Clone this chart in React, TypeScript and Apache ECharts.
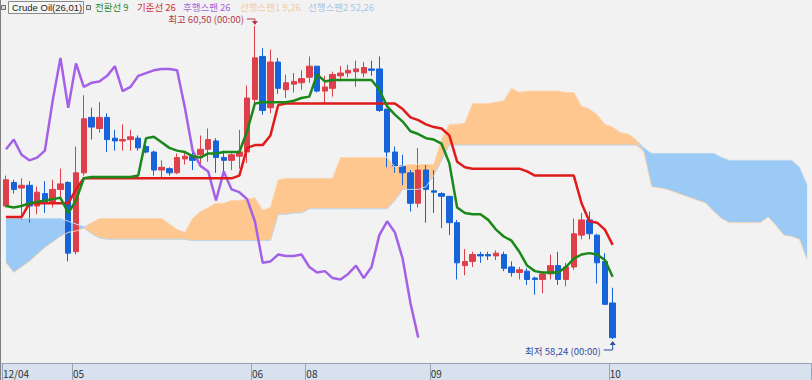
import React, { useEffect, useRef } from 'react';
import * as echarts from 'echarts';

// [open, close, low, high]
const ohlc: [number, number, number, number][] = [
  [59.20, 59.39, 59.19, 59.42], [59.37, 59.32, 59.29, 59.39], [59.33, 59.35, 59.10, 59.40], [59.35, 59.20, 59.08, 59.38],
  [59.20, 59.30, 59.14, 59.34], [59.29, 59.23, 59.15, 59.38], [59.23, 59.32, 59.19, 59.39], [59.32, 59.36, 59.24, 59.47],
  [59.37, 58.86, 58.80, 59.38], [58.87, 59.44, 58.85, 59.63], [59.44, 59.83, 59.42, 60.00], [59.84, 59.77, 59.68, 59.91],
  [59.76, 59.84, 59.73, 59.95], [59.84, 59.68, 59.59, 59.87], [59.69, 59.67, 59.60, 59.75], [59.67, 59.68, 59.60, 59.79],
  [59.68, 59.70, 59.60, 59.75], [59.69, 59.62, 59.60, 59.71], [59.63, 59.59, 59.58, 59.66], [59.59, 59.46, 59.42, 59.60],
  [59.46, 59.48, 59.41, 59.53], [59.47, 59.44, 59.42, 59.48], [59.44, 59.55, 59.43, 59.58], [59.54, 59.56, 59.50, 59.59],
  [59.56, 59.53, 59.46, 59.60], [59.57, 59.61, 59.48, 59.71], [59.61, 59.68, 59.52, 59.76], [59.67, 59.55, 59.44, 59.69],
  [59.55, 59.53, 59.42, 59.60], [59.53, 59.57, 59.46, 59.58], [59.56, 59.59, 59.47, 59.75], [59.59, 59.98, 59.51, 60.07],
  [59.97, 60.27, 59.94, 60.50], [60.28, 59.89, 59.86, 60.34], [59.91, 60.24, 59.87, 60.33], [60.24, 60.05, 60.01, 60.27],
  [60.04, 60.09, 59.98, 60.15], [60.08, 60.10, 60.02, 60.16], [60.09, 60.12, 60.04, 60.18], [60.13, 60.21, 60.09, 60.28],
  [60.21, 60.03, 60.02, 60.21], [60.03, 60.06, 59.94, 60.14], [60.05, 60.15, 59.99, 60.17], [60.14, 60.16, 60.10, 60.21],
  [60.16, 60.18, 60.13, 60.22], [60.17, 60.19, 60.06, 60.25], [60.16, 60.20, 60.13, 60.24], [60.19, 60.18, 60.14, 60.25],
  [60.19, 59.89, 59.88, 60.28], [59.90, 59.59, 59.48, 59.90], [59.59, 59.49, 59.44, 59.63], [59.49, 59.44, 59.35, 59.57],
  [59.44, 59.22, 59.16, 59.46], [59.22, 59.46, 59.19, 59.62], [59.46, 59.32, 59.08, 59.50], [59.31, 59.30, 59.15, 59.46],
  [59.29, 59.27, 59.04, 59.30], [59.27, 59.08, 58.99, 59.27], [59.08, 58.79, 58.67, 59.10], [58.77, 58.80, 58.70, 58.89],
  [58.80, 58.85, 58.76, 58.87], [58.85, 58.84, 58.79, 58.87], [58.85, 58.84, 58.81, 58.87], [58.84, 58.86, 58.81, 58.88],
  [58.85, 58.75, 58.73, 58.87], [58.76, 58.72, 58.69, 58.80], [58.72, 58.74, 58.67, 58.76], [58.73, 58.67, 58.63, 58.75],
  [58.68, 58.67, 58.56, 58.69], [58.67, 58.71, 58.57, 58.73], [58.71, 58.77, 58.67, 58.85], [58.77, 58.67, 58.63, 58.87],
  [58.67, 58.76, 58.62, 58.79], [58.76, 59.00, 58.74, 59.11], [58.99, 59.10, 58.96, 59.15], [59.10, 59.00, 58.96, 59.16],
  [58.99, 58.79, 58.64, 59.00], [58.80, 58.49, 58.49, 58.86], [58.50, 58.25, 58.24, 58.61],
];

// 전환선 (9)
const tenkan = [
  59.20, 59.19, 59.20, 59.22, 59.23, 59.24, 59.25, 59.26, 59.15, 59.24,
  59.40, 59.41, 59.41, 59.41, 59.41, 59.41, 59.41, 59.42, 59.69, 59.70,
  59.66, 59.62, 59.60, 59.59, 59.56, 59.55, 59.58, 59.58, 59.59, 59.59,
  59.59, 59.74, 59.94, 59.95, 59.95, 59.95, 59.95, 59.96, 59.98, 59.99,
  60.15, 60.10, 60.11, 60.11, 60.11, 60.11, 60.11, 60.11, 60.04, 59.92,
  59.86, 59.81, 59.74, 59.72, 59.69, 59.68, 59.65, 59.51, 59.19, 59.15,
  59.14, 59.14, 59.10, 59.03, 58.98, 58.95, 58.87, 58.77, 58.73, 58.72,
  58.72, 58.72, 58.76, 58.82, 58.85, 58.86, 58.85, 58.81, 58.69,
];

// 기준선 (26)
const kijun = [
  59.12, 59.12, 59.12, 59.22, 59.22, 59.22, 59.22, 59.22, 59.22, 59.32,
  59.40, 59.40, 59.40, 59.40, 59.40, 59.40, 59.40, 59.40, 59.40, 59.40,
  59.40, 59.40, 59.40, 59.40, 59.40, 59.40, 59.40, 59.40, 59.40, 59.40,
  59.42, 59.62, 59.64, 59.64, 59.71, 59.93, 59.94, 59.94, 59.94, 59.94,
  59.94, 59.94, 59.94, 59.94, 59.94, 59.94, 59.94, 59.94, 59.94, 59.94,
  59.94, 59.90, 59.84, 59.82, 59.79, 59.77, 59.76, 59.71, 59.52, 59.48,
  59.47, 59.47, 59.47, 59.47, 59.47, 59.47, 59.47, 59.45, 59.42, 59.42,
  59.42, 59.42, 59.42, 59.42, 59.22, 59.09, 59.08, 59.03, 58.92,
];

// 후행스팬 (26)
const chikou = [
  59.61, 59.68, 59.57, 59.53, 59.55, 59.60, 59.96, 60.27, 59.91, 60.23,
  60.06, 60.09, 60.10, 60.14, 60.21, 60.03, 60.06, 60.14, 60.16, 60.18,
  60.19, 60.19, 60.18, 59.91, 59.60, 59.49, 59.45, 59.24, 59.45, 59.32,
  59.30, 59.25, 59.09, 58.79, 58.80, 58.85, 58.84, 58.84, 58.85, 58.76,
  58.72, 58.73, 58.68, 58.67, 58.71, 58.77, 58.68, 58.76, 58.99, 59.09,
  59.01, 58.82, 58.50, 58.25,
];

// 선행스팬1 (9,26)
const span1 = [
  58.79, 58.72, 58.76, 58.80, 58.85, 58.90, 58.94, 58.98, 59.01, 59.02,
  59.04, 59.08, 59.11, 59.11, 59.11, 59.11, 59.11, 59.11, 59.11, 59.11,
  59.11, 59.07, 59.03, 59.01, 59.11, 59.16, 59.19, 59.22, 59.22, 59.24,
  59.24, 59.25, 59.26, 59.17, 59.19, 59.39, 59.40, 59.40, 59.40, 59.40,
  59.40, 59.40, 59.40, 59.55, 59.55, 59.55, 59.55, 59.55, 59.55, 59.55,
  59.48, 59.49, 59.50, 59.50, 59.50, 59.50, 59.68, 59.79, 59.79, 59.80,
  59.94, 59.94, 59.94, 59.95, 59.96, 60.05, 60.02, 60.03, 60.03, 60.03,
  60.03, 60.03, 60.02, 60.02, 59.92, 59.90, 59.86, 59.79, 59.77, 59.73,
  59.72, 59.68, 59.59, 59.34, 59.33, 59.32, 59.30, 59.28, 59.26, 59.24,
  59.22, 59.16, 59.11, 59.08, 59.08, 59.08, 59.08, 59.08, 59.12, 59.06,
  58.99, 58.98, 58.96, 58.81,
];

// 선행스팬2 (52,26)
const span2 = [
  59.11, 59.11, 59.11, 59.11, 59.11, 59.11, 59.11, 59.11, 59.09, 59.07,
  59.05, 59.00, 58.97, 58.96, 58.96, 58.96, 58.96, 58.96, 58.96, 58.96,
  58.96, 58.96, 58.96, 58.96, 58.95, 58.95, 58.95, 58.95, 58.95, 58.95,
  58.95, 58.95, 58.95, 58.95, 58.95, 59.14, 59.14, 59.15, 59.15, 59.18,
  59.18, 59.18, 59.18, 59.18, 59.18, 59.18, 59.18, 59.18, 59.18, 59.18,
  59.24, 59.32, 59.32, 59.32, 59.34, 59.42, 59.53, 59.64, 59.64, 59.64,
  59.64, 59.64, 59.64, 59.64, 59.64, 59.64, 59.64, 59.64, 59.64, 59.64,
  59.64, 59.64, 59.64, 59.64, 59.64, 59.64, 59.64, 59.64, 59.64, 59.64,
  59.64, 59.64, 59.62, 59.58, 59.58, 59.58, 59.58, 59.58, 59.58, 59.58,
  59.58, 59.58, 59.55, 59.53, 59.53, 59.53, 59.53, 59.53, 59.53, 59.53,
  59.53, 59.53, 59.48, 59.35,
];

const dayLabels: Record<number, string> = { 0: '12/04', 9: '05', 32: '06', 39: '08', 55: '09', 78: '10' };
const HIGH = { index: 32, value: 60.5, label: '최고 60,50 (00:00)' };
const LOW = { index: 78, value: 58.24, label: '최저 58,24 (00:00)' };
const Y_MIN = 58.0667;
const Y_MAX = 60.6877;

const legendItems = [
  { text: '전환선 9', color: '#2b8a2b' },
  { text: '기준선 26', color: '#cf2f38' },
  { text: '후행스팬 26', color: '#a266dc' },
  { text: '선행스팬1 9,26', color: '#f2cba4' },
  { text: '선행스팬2 52,26', color: '#a9c6e6' },
];
const legendX = [95, 137, 183, 240, 308];

const FONT = "'Noto Sans CJK KR', 'Noto Sans', sans-serif";

export default function App() {
  const ref = useRef<HTMLDivElement>(null);

  useEffect(() => {
    document.body.style.margin = '0';
    const el = ref.current!;
    const chart = echarts.init(el, null, { renderer: 'svg' });
    const categories = span1.map((_, i) => String(i));
    const cloudBase = span1.map((v, i) => Math.min(v, span2[i]));
    const bull = span1.map((v, i) => Math.max(v - span2[i], 0));
    const bear = span1.map((v, i) => Math.max(span2[i] - v, 0));

    const lineCommon = { type: 'line', symbol: 'none', silent: true };

    chart.setOption({
      animation: false,
      backgroundColor: '#f2f2f2',
      grid: { left: 2, right: 1, top: 0, bottom: 17 },
      xAxis: {
        type: 'category',
        data: categories,
        boundaryGap: true,
        z: 10,
        axisLine: { lineStyle: { color: '#98a3b5', width: 1 } },
        axisTick: {
          show: true,
          interval: (i: number) => dayLabels[i] !== undefined,
          length: 17,
          lineStyle: { color: '#98a3b5' },
        },
        axisLabel: {
          interval: 0,
          formatter: (_v: string, i: number) => dayLabels[i] ?? '',
          align: 'left',
          fontSize: 10,
          color: '#333',
          margin: 5,
          padding: [0, 0, 0, -3],
          fontFamily: FONT,
        },
        splitLine: { show: false },
      },
      yAxis: { type: 'value', min: Y_MIN, max: Y_MAX, show: false, splitLine: { show: false } },
      series: [
        { ...lineCommon, name: 'cloudBase', data: cloudBase, stack: 'cloud', stackStrategy: 'all', lineStyle: { opacity: 0 }, z: 1 },
        { ...lineCommon, name: 'bull', data: bull, stack: 'cloud', stackStrategy: 'all', lineStyle: { opacity: 0 }, areaStyle: { color: '#fdc78f', opacity: 1 }, z: 1 },
        { ...lineCommon, name: 'bear', data: bear, stack: 'cloud', stackStrategy: 'all', lineStyle: { opacity: 0 }, areaStyle: { color: '#9ccaf6', opacity: 1 }, z: 1 },
        {
          type: 'candlestick',
          data: ohlc,
          barWidth: 6,
          silent: true,
          itemStyle: { color: '#dd404a', color0: '#1763d9', borderColor: '#dd404a', borderColor0: '#1763d9', borderWidth: 1 },
          z: 3,
        },
        { ...lineCommon, name: '선행스팬1', data: span1, lineStyle: { color: '#fbd6b0', width: 1 }, z: 4 },
        { ...lineCommon, name: '선행스팬2', data: span2, lineStyle: { color: '#bcd6ee', width: 1 }, z: 4 },
        { ...lineCommon, name: '후행스팬', data: chikou, lineStyle: { color: '#a461e8', width: 2.5 }, z: 5 },
        { ...lineCommon, name: '기준선', data: kijun, lineStyle: { color: '#e01b1b', width: 2.5 }, z: 6 },
        { ...lineCommon, name: '전환선', data: tenkan, lineStyle: { color: '#1b881b', width: 2.5 }, z: 7 },
      ],
    });

    const hi = chart.convertToPixel({ gridIndex: 0 }, [categories[HIGH.index], HIGH.value]) as number[];
    const lo = chart.convertToPixel({ gridIndex: 0 }, [categories[LOW.index], LOW.value]) as number[];
    const hiColor = '#b3394a';
    const loColor = '#2c4f9e';

    const legendEls: any[] = [
      { type: 'rect', z: 30, shape: { x: 1.5, y: 5.5, width: 4, height: 4 }, style: { fill: '#dcdcdc', stroke: '#6e6e6e', lineWidth: 1 } },
      { type: 'rect', z: 30, shape: { x: 8.5, y: 1.5, width: 75, height: 12 }, style: { fill: '#f6f6f6', stroke: '#8a8a8a', lineWidth: 1 } },
      { type: 'text', z: 31, x: 12, y: 7, style: { text: 'Crude Oil(26,01)', fill: '#222', fontSize: 9.5, fontFamily: "'Liberation Sans', Arial, sans-serif", verticalAlign: 'middle' } },
      { type: 'rect', z: 30, shape: { x: 86.5, y: 5.5, width: 4, height: 4 }, style: { fill: '#dcdcdc', stroke: '#6e6e6e', lineWidth: 1 } },
      ...legendItems.map((it, i) => ({
        type: 'text', z: 31, x: legendX[i], y: 7,
        style: { text: it.text, fill: it.color, fontSize: 9.5, fontFamily: FONT, verticalAlign: 'middle' },
      })),
    ];

    chart.setOption({
      graphic: [
        { type: 'rect', z: 1, shape: { x: 0, y: 363, width: 812, height: 17 }, style: { fill: '#d8e2ef' } },
        { type: 'line', z: 20, shape: { x1: 0.5, y1: 0, x2: 0.5, y2: 380 }, style: { stroke: '#808080', lineWidth: 1 } },
        ...legendEls,
        { type: 'text', z: 31, x: hi[0] - 11, y: hi[1] - 6.5, style: { text: HIGH.label, fill: hiColor, fontSize: 9.5, fontFamily: FONT, align: 'right', verticalAlign: 'middle' } },
        { type: 'polyline', z: 31, shape: { points: [[hi[0] - 8, hi[1] - 7], [hi[0], hi[1] - 7], [hi[0], hi[1] - 2]] }, style: { stroke: hiColor, lineWidth: 1, fill: 'none' } },
        { type: 'polygon', z: 31, shape: { points: [[hi[0] - 3, hi[1] - 5], [hi[0] + 3, hi[1] - 5], [hi[0], hi[1] - 1]] }, style: { fill: hiColor } },
        { type: 'text', z: 31, x: lo[0] - 12, y: lo[1] + 12, style: { text: LOW.label, fill: loColor, fontSize: 9.5, fontFamily: FONT, align: 'right', verticalAlign: 'middle' } },
        { type: 'polyline', z: 31, shape: { points: [[lo[0] - 9, lo[1] + 11], [lo[0], lo[1] + 11], [lo[0], lo[1] + 3]] }, style: { stroke: loColor, lineWidth: 1, fill: 'none' } },
        { type: 'polygon', z: 31, shape: { points: [[lo[0] - 3, lo[1] + 6], [lo[0] + 3, lo[1] + 6], [lo[0], lo[1] + 2]] }, style: { fill: loColor } },
      ],
    });

    return () => chart.dispose();
  }, []);

  return <div ref={ref} style={{ position: 'absolute', left: 0, top: 0, width: 812, height: 380 }} />;
}
